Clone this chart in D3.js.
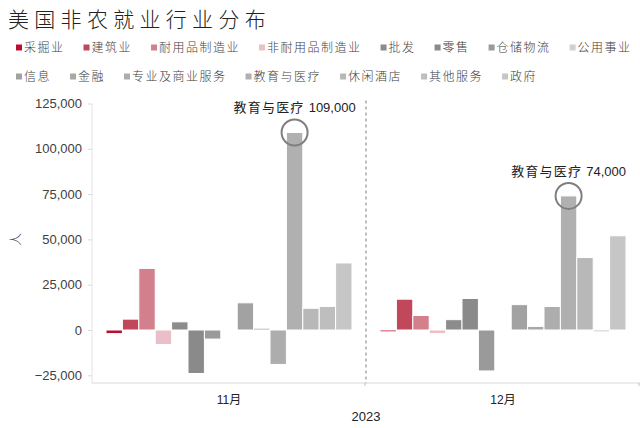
<!DOCTYPE html>
<html>
<head>
<meta charset="utf-8">
<script src="https://cdn.jsdelivr.net/npm/d3@7"></script>
<style>
  body { margin: 0; background: #fff; }
  svg { display: block; font-family: "Liberation Sans", "Noto Sans CJK SC", sans-serif; }
</style>
</head>
<body>
<svg id="chart" width="640" height="428"></svg>
<script>
const months = ['11月', '12月'];
const industries = ['采掘业', '建筑业', '耐用品制造业', '非耐用品制造业', '批发', '零售', '仓储物流', '公用事业',
  '信息', '金融', '专业及商业服务', '教育与医疗', '休闲酒店', '其他服务', '政府'];
const colors = ['#b8102e', '#c1475a', '#d3808d', '#ebbfc7', '#8c8c8c', '#8a8a8a', '#9a9a9a', '#d0d0d0',
  '#a2a2a2', '#a8a8a8', '#adadad', '#b0b0b0', '#b8b8b8', '#bebebe', '#c6c6c6'];
const nov = [-2000, 6000, 34000, -8000, 4500, -24000, -5000, 0, 15000, 1000, -19000, 109000, 12000, 13000, 37000];
const dec = [-1000, 17000, 8000, -2000, 5700, 17400, -22600, -300, 14000, 2000, 13000, 74000, 40000, -1000, 52000];
const yTicks = [-25000, 0, 25000, 50000, 75000, 100000, 125000];
const highlights = [
  { month: '11月', industry: '教育与医疗', value: 109000 },
  { month: '12月', industry: '教育与医疗', value: 74000 }
];

const series = [nov, dec];
const svg = d3.select('#chart');
const fmt = d3.format(',');

const plotLeft = 92, plotRight = 640, plotTop = 103.5, plotBottom = 383;

const x0 = d3.scaleBand().domain(months).range([plotLeft, plotRight]);
const x1 = d3.scaleBand().domain(industries).range([0, x0.bandwidth()]).paddingOuter(0.854);
const y = d3.scaleLinear().domain([-25000, 125000]).range([375.3, plotTop]);
const color = d3.scaleOrdinal().domain(industries).range(colors);

// title
svg.append('text')
  .attr('x', 8).attr('y', 27)
  .attr('font-size', 21).attr('letter-spacing', 5.3)
  .attr('fill', '#222')
  .attr('font-family', '"Noto Sans CJK SC", sans-serif')
  .attr('font-weight', 300)
  .text('美国非农就业行业分布');

// legend, two rows
const legendRows = [industries.slice(0, 8), industries.slice(8)];
const legendY = [48, 77];
legendRows.forEach((row, r) => {
  let cx = 16;
  row.forEach(name => {
    const g = svg.append('g').attr('transform', `translate(${cx},${legendY[r]})`);
    g.append('rect').attr('x', 0).attr('y', -3.5).attr('width', 6).attr('height', 6)
      .attr('fill', color(name));
    const t = g.append('text').attr('x', 8).attr('y', 0).attr('dy', '0.35em')
      .attr('font-size', 12).attr('letter-spacing', 1.5)
      .attr('fill', '#404040').attr('font-weight', 300)
      .attr('font-family', '"Noto Sans CJK SC", sans-serif')
      .text(name);
    cx += 8 + t.node().getComputedTextLength() + 19;
  });
});

// y axis
const yAxis = svg.append('g')
  .attr('transform', `translate(${plotLeft},0)`)
  .call(d3.axisLeft(y).tickValues(yTicks).tickSize(4).tickPadding(6).tickFormat(fmt));
yAxis.select('.domain').remove();
yAxis.selectAll('.tick line').attr('stroke', '#d9d9d9');
yAxis.selectAll('.tick text').attr('font-size', 13).attr('fill', '#404040')
  .attr('font-family', '"Liberation Sans", Arial, sans-serif');
svg.append('line')
  .attr('x1', plotLeft).attr('x2', plotLeft).attr('y1', plotTop).attr('y2', plotBottom)
  .attr('stroke', '#e3e3e3');

svg.append('text')
  .attr('transform', `translate(15,${y(50000)}) rotate(-90)`)
  .attr('text-anchor', 'middle').attr('dy', '0.35em')
  .attr('font-size', 13).attr('fill', '#404040').attr('font-weight', 300)
  .attr('font-family', '"Noto Sans CJK SC", sans-serif')
  .text('人');

// bottom axis
svg.append('line')
  .attr('x1', plotLeft).attr('x2', plotRight).attr('y1', plotBottom).attr('y2', plotBottom)
  .attr('stroke', '#d9d9d9');
months.forEach(m => {
  const xe = x0(m) + x0.bandwidth();
  svg.append('line')
    .attr('x1', xe - 1).attr('x2', xe - 1).attr('y1', plotBottom).attr('y2', plotBottom + 3)
    .attr('stroke', '#bfbfbf');
  svg.append('text')
    .attr('x', x0(m) + x0.bandwidth() / 2).attr('y', 404)
    .attr('text-anchor', 'middle').attr('font-size', 12).attr('fill', '#222')
    .text(m);
});
svg.append('text')
  .attr('x', x0(months[1])).attr('y', 421)
  .attr('text-anchor', 'middle').attr('font-size', 13).attr('fill', '#222')
  .text('2023');

// month separator
svg.append('line')
  .attr('x1', x0(months[1])).attr('x2', x0(months[1]))
  .attr('y1', plotTop - 3).attr('y2', plotBottom)
  .attr('stroke', '#7f7f7f').attr('stroke-dasharray', '3,3');

// bars
months.forEach((m, mi) => {
  svg.append('g')
    .attr('transform', `translate(${x0(m)},0)`)
    .selectAll('rect')
    .data(industries.map((name, i) => ({ name, value: series[mi][i] })))
    .join('rect')
    .attr('x', d => x1(d.name))
    .attr('width', x1.bandwidth())
    .attr('y', d => y(Math.max(0, d.value)))
    .attr('height', d => Math.abs(y(d.value) - y(0)))
    .attr('fill', d => color(d.name))
    .attr('stroke', '#fff').attr('stroke-width', 1);
});

// highlight circles and labels
highlights.forEach(h => {
  const cx = x0(h.month) + x1(h.industry) + x1.bandwidth() / 2;
  const cy = y(h.value);
  svg.append('circle')
    .attr('cx', cx).attr('cy', cy).attr('r', 13)
    .attr('fill', 'none').attr('stroke', '#7f7f7f').attr('stroke-width', 2);
  const t = svg.append('text')
    .attr('x', cx).attr('y', cy - 20)
    .attr('text-anchor', 'middle').attr('font-size', 13).attr('fill', '#222');
  t.append('tspan').attr('font-family', '"Noto Sans CJK SC", sans-serif')
    .attr('letter-spacing', 1.2).text(h.industry + ' ');
  t.append('tspan').attr('font-family', '"Liberation Sans", Arial, sans-serif')
    .text(fmt(h.value));
});
</script>
</body>
</html>
